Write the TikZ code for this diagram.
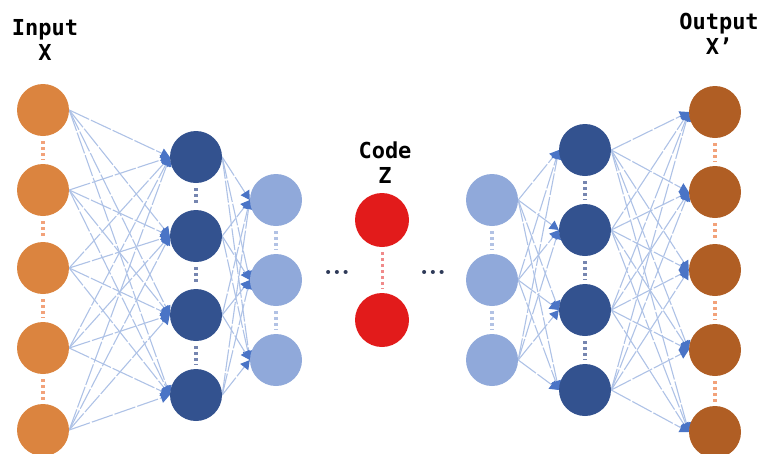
\documentclass[tikz,border=0pt]{standalone}
\usepackage{fontspec}
\newfontfamily\labfont{DejaVu Sans Mono}
\usetikzlibrary{arrows.meta,backgrounds}
\definecolor{inorange}{HTML}{DB843F}
\definecolor{inorangedot}{HTML}{F2A27A}
\definecolor{outbrown}{HTML}{B05E24}
\definecolor{darkblue}{HTML}{33528F}
\definecolor{darkbluedot}{HTML}{7686B0}
\definecolor{lightblue}{HTML}{90A9DA}
\definecolor{lightbluedot}{HTML}{B2C2E4}
\definecolor{codered}{HTML}{E21B1B}
\definecolor{codereddot}{HTML}{F08A8A}
\definecolor{edgeblue}{HTML}{AEC2E6}
\definecolor{tipblue}{HTML}{4A74C6}
\definecolor{dotgray}{HTML}{2E3A58}
\tikzset{
  neuron/.style={circle, minimum size=52pt, inner sep=0pt, draw=none},
  conn/.style={draw=edgeblue, line width=1.1pt, dash pattern=on 22pt off 2pt,
    -{Triangle[length=9pt,width=10pt,color=tipblue]}},
  vdots/.style={line width=3.5pt, dash pattern=on 3pt off 3pt, shorten <=5pt, shorten >=4pt},
  lab/.style={font=\labfont\bfseries\fontsize{22}{25}\selectfont, align=center, inner sep=0pt},
  ell/.style={font=\bfseries\fontsize{28}{28}\selectfont, text=dotgray, inner sep=0pt}
}
\begin{document}
\begin{tikzpicture}[x=1pt,y=-1pt]
\useasboundingbox (0,0) rectangle (765,453);
% input layer
\foreach \i/\y in {1/110,2/190,3/268,4/348,5/430}
  \node[neuron, fill=inorange] (i\i) at (43,\y) {};
% hidden 1
\foreach \i/\y in {1/157,2/236,3/315,4/395}
  \node[neuron, fill=darkblue] (h\i) at (196,\y) {};
% hidden 2
\foreach \i/\y in {1/200,2/280,3/360}
  \node[neuron, fill=lightblue] (g\i) at (276,\y) {};
% code
\node[neuron, minimum size=54pt, fill=codered] (c1) at (382,220) {};
\node[neuron, minimum size=54pt, fill=codered] (c2) at (382,320) {};
% right light blue
\foreach \i/\y in {1/200,2/280,3/360}
  \node[neuron, fill=lightblue] (rg\i) at (492,\y) {};
% right dark blue
\foreach \i/\y in {1/150,2/230,3/310,4/390}
  \node[neuron, fill=darkblue] (rh\i) at (585,\y) {};
% output
\foreach \i/\y in {1/112,2/192,3/270,4/350,5/432}
  \node[neuron, fill=outbrown] (o\i) at (715,\y) {};

% labels
\node[lab] (linput) at (45,40) {Input\\X};
\node[lab] (lcode) at (385,163) {Code\\Z};
\node[lab] (loutput) at (719,34) {Output\\X’};
\node[ell] (e1) at (337,272) {...};
\node[ell] (e2) at (433,272) {...};

% vertical dotted separators
\foreach \a/\b in {1/2,2/3,3/4,4/5} {
  \draw[vdots, color=inorangedot] (i\a.south) -- (i\b.north);
  \draw[vdots, color=inorangedot] (o\a.south) -- (o\b.north);
}
\foreach \a/\b in {1/2,2/3,3/4} {
  \draw[vdots, color=darkbluedot] (h\a.south) -- (h\b.north);
  \draw[vdots, color=darkbluedot] (rh\a.south) -- (rh\b.north);
}
\foreach \a/\b in {1/2,2/3} {
  \draw[vdots, color=lightbluedot] (g\a.south) -- (g\b.north);
  \draw[vdots, color=lightbluedot] (rg\a.south) -- (rg\b.north);
}
\draw[vdots, line width=3pt, color=codereddot] (c1.south) -- (c2.north);

% connections
\begin{scope}[on background layer]
\foreach \a in {1,...,5}
  \foreach \b in {1,...,4}
    \draw[conn] (i\a.east) -- (h\b.west);
\foreach \a in {1,...,4}
  \foreach \b in {1,...,3}
    \draw[conn] (h\a.east) -- (g\b.west);
\foreach \a in {1,...,3}
  \foreach \b in {1,...,4}
    \draw[conn] (rg\a.east) -- (rh\b.west);
\foreach \a in {1,...,4}
  \foreach \b in {1,...,5}
    \draw[conn] (rh\a.east) -- (o\b.west);
\end{scope}
\end{tikzpicture}
\end{document}
